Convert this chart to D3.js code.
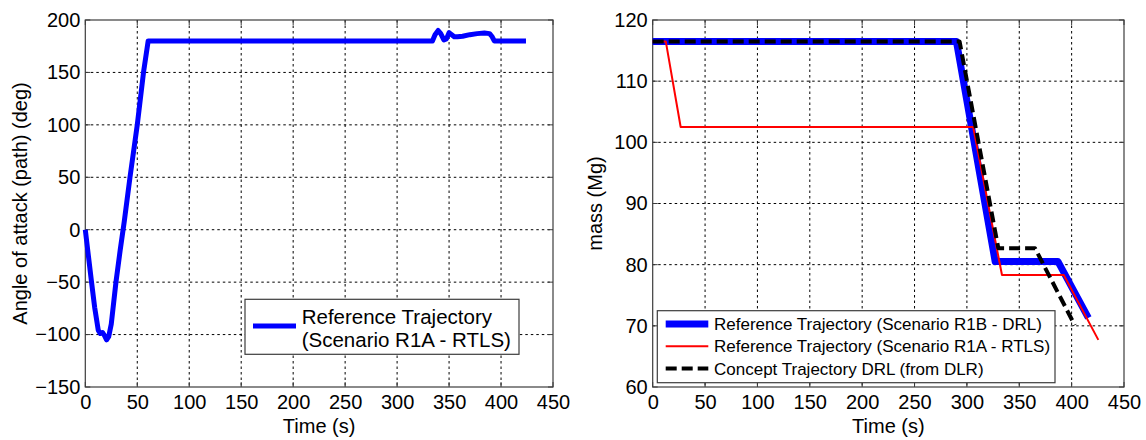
<!DOCTYPE html>
<html>
<head>
<meta charset="utf-8">
<script src="https://cdn.jsdelivr.net/npm/d3@7"></script>
<style>
  body { margin: 0; background: #fff; }
  svg { display: block; font-family: 'Liberation Sans', Arial, sans-serif; }
</style>
</head>
<body>
<svg width="1146" height="440"></svg>
<script>
// tick values
const timeTicks = [0, 50, 100, 150, 200, 250, 300, 350, 400, 450]
const angleTicks = [-150, -100, -50, 0, 50, 100, 150, 200]
const massTicks = [60, 70, 80, 90, 100, 110, 120]

// left panel: angle of attack, scenario R1A
const aoaTime = [0, 3, 6, 9, 12.5, 14.5, 16.5, 18.5, 20.5, 22.5, 25, 29.5, 33.5, 37.5, 43, 50, 56, 60.5,
  334, 336.5, 339.5, 342, 345, 347.5, 350, 352.5, 355, 358, 363, 370, 377, 384, 389, 391.5, 393.5, 424]
const aoaDeg = [0, -25, -50, -74, -96, -99, -98, -101, -105, -102, -90, -50, -20, 8, 50, 100, 150, 180,
  180, 186, 190, 187, 181, 182, 188, 186, 184, 184, 184.5, 186, 187, 187.5, 187, 184, 180, 180]

// right panel: mass
const r1bTime = [0, 290, 327, 387, 416]
const r1bMass = [116.5, 116.5, 80.5, 80.5, 71.3]
const r1aTime = [0, 12.5, 26.7, 306, 333.5, 392.5, 425.5]
const r1aMass = [116.5, 116.5, 102.5, 102.5, 78.3, 78.3, 67.7]
const dlrTime = [0, 293, 330, 365, 403]
const dlrMass = [116.5, 116.5, 82.7, 82.7, 70.1]

const legendLeft = ['Reference Trajectory', '(Scenario R1A - RTLS)']
const legendRight = [
  'Reference Trajectory (Scenario R1B - DRL)',
  'Reference Trajectory (Scenario R1A - RTLS)',
  'Concept Trajectory DRL (from DLR)'
]

const svg = d3.select('svg')
const boxColor = '#3c3c3c'
const fontSize = 20

function panel (opts) {
  const x = d3.scaleLinear().domain([0, 450]).range([opts.left, opts.right])
  const y = d3.scaleLinear().domain(opts.yDomain).range([opts.bottom, opts.top])
  const g = svg.append('g')

  // dotted grid
  const grid = g.append('g')
    .attr('stroke', '#000')
    .attr('stroke-width', 1)
    .attr('stroke-dasharray', '2.5,3')
  grid.selectAll('.gx').data(timeTicks.slice(1, -1)).enter().append('line')
    .attr('x1', d => x(d)).attr('x2', d => x(d))
    .attr('y1', opts.top).attr('y2', opts.bottom)
  grid.selectAll('.gy').data(opts.yTicks.slice(1, -1)).enter().append('line')
    .attr('y1', d => y(d)).attr('y2', d => y(d))
    .attr('x1', opts.left).attr('x2', opts.right)

  // axes
  g.append('g')
    .attr('transform', `translate(0,${opts.bottom})`)
    .call(d3.axisBottom(x).tickValues(timeTicks).tickSize(0).tickPadding(8))
    .call(a => a.select('.domain').remove())
    .call(a => a.selectAll('text').attr('fill', '#000').attr('font-size', fontSize)
      .attr('font-family', "'Liberation Sans', Arial, sans-serif"))
  g.append('g')
    .attr('transform', `translate(${opts.left},0)`)
    .call(d3.axisLeft(y).tickValues(opts.yTicks).tickSize(0).tickPadding(5))
    .call(a => a.select('.domain').remove())
    .call(a => a.selectAll('text').attr('fill', '#000').attr('font-size', fontSize)
      .attr('font-family', "'Liberation Sans', Arial, sans-serif"))

  // inner ticks on all four sides
  const ticks = g.append('g').attr('stroke', boxColor)
  timeTicks.forEach(t => {
    ticks.append('line').attr('x1', x(t)).attr('x2', x(t)).attr('y1', opts.bottom).attr('y2', opts.bottom - 5)
    ticks.append('line').attr('x1', x(t)).attr('x2', x(t)).attr('y1', opts.top).attr('y2', opts.top + 5)
  })
  opts.yTicks.forEach(t => {
    ticks.append('line').attr('y1', y(t)).attr('y2', y(t)).attr('x1', opts.left).attr('x2', opts.left + 5)
    ticks.append('line').attr('y1', y(t)).attr('y2', y(t)).attr('x1', opts.right).attr('x2', opts.right - 5)
  })

  // box
  g.append('rect')
    .attr('x', opts.left).attr('y', opts.top)
    .attr('width', opts.right - opts.left).attr('height', opts.bottom - opts.top)
    .attr('fill', 'none').attr('stroke', boxColor).attr('stroke-width', 1.2)

  // labels
  g.append('text')
    .attr('x', (opts.left + opts.right) / 2).attr('y', 433)
    .attr('text-anchor', 'middle').attr('font-size', fontSize)
    .text('Time (s)')
  g.append('text')
    .attr('transform', `translate(${opts.yLabelX},${(opts.top + opts.bottom) / 2}) rotate(-90)`)
    .attr('text-anchor', 'middle').attr('font-size', fontSize)
    .text(opts.yLabel)

  return { g, x, y }
}

function addLine (p, xs, ys, color, width, dash) {
  const line = d3.line().x(d => p.x(d[0])).y(d => p.y(d[1]))
  p.g.append('path')
    .datum(xs.map((t, i) => [t, ys[i]]))
    .attr('d', line)
    .attr('fill', 'none')
    .attr('stroke', color)
    .attr('stroke-width', width)
    .attr('stroke-linejoin', 'round')
    .attr('stroke-dasharray', dash || null)
}

// left chart
const left = panel({
  left: 85.3, right: 553, top: 20, bottom: 387,
  yDomain: [-150, 200], yTicks: angleTicks,
  yLabel: 'Angle of attack (path) (deg)', yLabelX: 27
})
addLine(left, aoaTime, aoaDeg, '#0000ff', 5)

const lg = left.g.append('g')
lg.append('rect').attr('x', 245).attr('y', 299.3).attr('width', 274).attr('height', 55)
  .attr('fill', '#fff').attr('stroke', boxColor).attr('stroke-width', 1.2)
lg.append('line').attr('x1', 253).attr('x2', 296).attr('y1', 326).attr('y2', 326)
  .attr('stroke', '#0000ff').attr('stroke-width', 5)
lg.selectAll('text').data(legendLeft).enter().append('text')
  .attr('x', 301.7).attr('y', (d, i) => 323.5 + i * 23.5)
  .attr('font-size', 20.5)
  .text(d => d)

// right chart
const right = panel({
  left: 652.7, right: 1124, top: 20, bottom: 387,
  yDomain: [60, 120], yTicks: massTicks,
  yLabel: 'mass (Mg)', yLabelX: 602
})
addLine(right, r1bTime, r1bMass, '#0000ff', 7)
addLine(right, r1aTime, r1aMass, '#ff0000', 2)
addLine(right, dlrTime, dlrMass, '#000', 4, '11,5')

const rg = right.g.append('g')
rg.append('rect').attr('x', 657.3).attr('y', 310.7).attr('width', 397.7).attr('height', 72)
  .attr('fill', '#fff').attr('stroke', boxColor).attr('stroke-width', 1.2)
const styles = [['#0000ff', 7, null], ['#ff0000', 2, null], ['#000', 4, '11,5']]
legendRight.forEach((label, i) => {
  const yy = 324 + i * 22.2
  rg.append('line').attr('x1', 665.7).attr('x2', 708.3).attr('y1', yy).attr('y2', yy)
    .attr('stroke', styles[i][0]).attr('stroke-width', styles[i][1])
    .attr('stroke-dasharray', styles[i][2])
  rg.append('text').attr('x', 714).attr('y', yy + 6.2)
    .attr('font-size', 17)
    .text(label)
})
</script>
</body>
</html>
